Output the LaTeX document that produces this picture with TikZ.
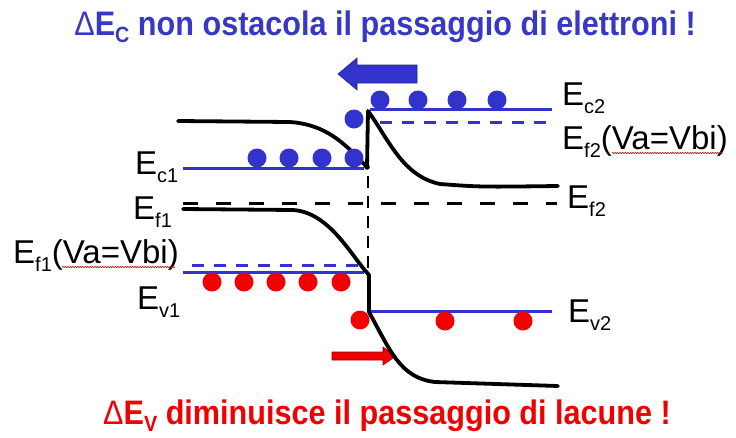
\documentclass[tikz,border=0pt]{standalone}
\usepackage{fontspec}
\setmainfont{Liberation Sans}
\usetikzlibrary{decorations.pathmorphing}
\definecolor{bblue}{RGB}{50,50,205}
\definecolor{tblue}{RGB}{55,55,200}
\definecolor{rred}{RGB}{240,0,0}
\newcommand{\lvl}[2]{E\raisebox{-8pt}{\fontsize{20}{20}\selectfont #1}#2}
\begin{document}
\begin{tikzpicture}[x=1pt,y=-1pt,
  band/.style={line width=3.8pt, line cap=round, line join=round},
  bline/.style={bblue, line width=3pt},
  bdash/.style={bblue, line width=3pt, dash pattern=on 12pt off 10pt},
  kdash/.style={black, line width=3pt, dash pattern=on 15pt off 18pt},
  edot/.style={fill=bblue, draw=none},
  hdot/.style={fill=rred, draw=none},
  lbl/.style={font=\fontsize{33}{33}\selectfont, inner sep=0pt, anchor=base west},
  squig/.style={red!80!black, line width=0.5pt, decorate, decoration={snake, amplitude=0.8pt, segment length=2.5pt}},
  ttl/.style={font=\bfseries\fontsize{34}{34}\selectfont, inner sep=0pt}
]
\path[use as bounding box] (0,0) rectangle (736,437);

% titles
\node[ttl, text=tblue] (top) at (385,27) {\scalebox{0.9}[1]{{\mdseries Δ}E\raisebox{-7pt}{\fontsize{22}{22}\selectfont C} non ostacola il passaggio di elettroni !}};
\node[ttl, text=rred] (bot) at (387,416) {\scalebox{0.9}[1]{{\mdseries Δ}E\raisebox{-7pt}{\fontsize{22}{22}\selectfont V} diminuisce il passaggio di lacune !}};

% arrows
\draw[fill=bblue, draw=bblue!70!black, line width=0.6pt] (417,65) -- (357,65) -- (357,58) -- (338,74) -- (357,90) -- (357,83) -- (417,83) -- cycle;
\draw[fill=rred, draw=red!60!black, line width=0.6pt] (332,352) -- (383,352) -- (383,347) -- (396,356) -- (383,365) -- (383,360) -- (332,360) -- cycle;

% blue levels
\draw[bline] (183,168) -- (364,168);
\draw[bline] (370,109) -- (552,109);
\draw[bdash] (380,122) -- (552,122);
\draw[bline] (183,272) -- (364,272);
\draw[bdash] (192,265) -- (363,265);
\draw[bline] (370,311) -- (552,311);

% black dashed
\draw[kdash] (183,203) -- (557,203);
\draw[black, line width=2.2pt, dash pattern=on 12pt off 8pt] (368,176) -- (368,268);

% conduction band
\draw[band] (178,121) -- (290,122) .. controls (320,124) and (340,138) .. (360,160) -- (367,167) -- (368,111)
  .. controls (388,138) and (402,176) .. (440,184) .. controls (480,187) .. (558,186);
\fill (367,167) circle (2.8pt);

% valence band
\draw[band] (183,209) -- (293,210) .. controls (325,212) and (345,245) .. (363,268) -- (369,275) -- (369,312)
  .. controls (390,350) and (400,378) .. (435,382) -- (558,386);

% electrons
\foreach \x in {380,418,457,497} \fill[edot] (\x,100) circle (9.5pt);
\fill[edot] (354,119) circle (9.5pt);
\foreach \x in {257,289,322,354} \fill[edot] (\x,158) circle (9.5pt);

% holes
\foreach \x in {212,244,276,308,341} \fill[hdot] (\x,282) circle (9.5pt);
\foreach \x/\y in {360/320,445/321,523/321} \fill[hdot] (\x,\y) circle (9.5pt);

% labels
\node[lbl] (ec1) at (135,174) {\lvl{c1}{}};
\node[lbl] (ef1) at (133,219) {\lvl{f1}{}};
\node[lbl] (ef1v) at (13,263) {\lvl{f1}{(Va=Vbi)}};
\node[lbl] (ev1) at (137,309) {\lvl{v1}{}};
\node[lbl] (ec2) at (562,105) {\lvl{c2}{}};
\node[lbl] (ef2v) at (562,149) {\lvl{f2}{(Va=Vbi)}};
\node[lbl] (ef2) at (567,208) {\lvl{f2}{}};
\node[lbl] (ev2) at (568,322) {\lvl{v2}{}};

% spell-check squiggles
\draw[squig] (62,267) -- (175,267);
\draw[squig] (612,153) -- (723,153);
\end{tikzpicture}
\end{document}
